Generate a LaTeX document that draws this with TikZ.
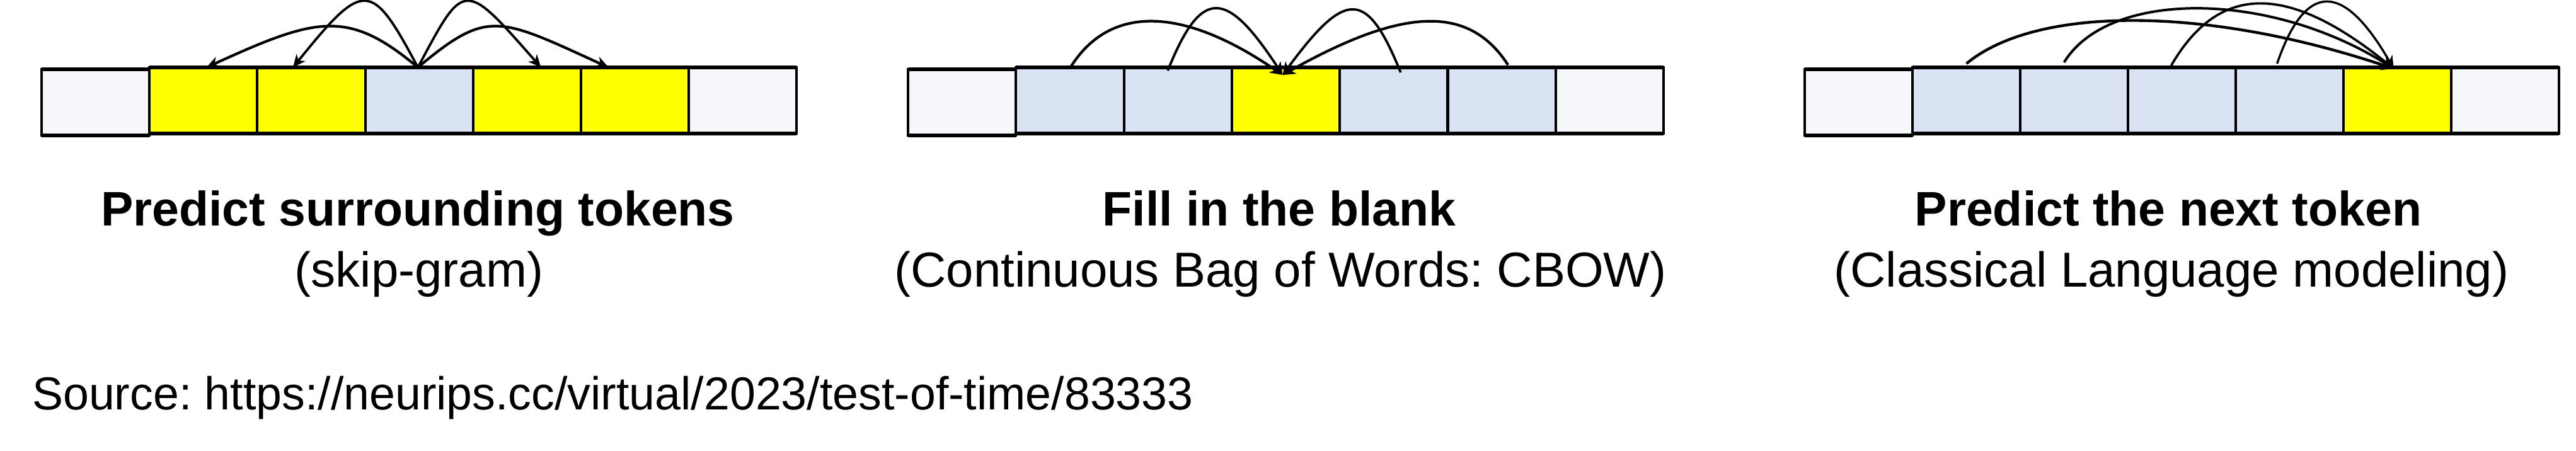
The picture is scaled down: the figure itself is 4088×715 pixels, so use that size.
\documentclass[tikz,border=0pt]{standalone}
\usepackage{fontspec}
\setmainfont{Liberation Sans}
\usetikzlibrary{arrows.meta}
\definecolor{endc}{HTML}{F5F7FB}
\definecolor{blu}{HTML}{DAE3F3}
\definecolor{yel}{HTML}{FFFF00}
\frenchspacing
\begin{document}
\begin{tikzpicture}[x=1pt,y=-1pt,
  cell/.style={draw=black, line width=4pt, minimum width=171.2pt, minimum height=105pt, anchor=north west, inner sep=0pt, outer sep=0pt},
  edge/.style={line width=5.5pt, draw=black},
  conn/.style={line width=#1, draw=black, -{Stealth[length=20pt,width=18pt,inset=6pt]}},
  ttl/.style={font=\fontsize{77}{90}\selectfont\bfseries, anchor=base, inner sep=0pt},
  sub/.style={font=\fontsize{78}{90}\selectfont, anchor=base, inner sep=0pt},
  srcstyle/.style={font=\fontsize{73.5}{88}\selectfont, anchor=base west, inner sep=0pt}]
\useasboundingbox (0,0) rectangle (4088,715);
\fill[white] (0,0) rectangle (4088,715);
% strips
\foreach \c [count=\i from 0] in {endc,yel,yel,blu,yel,yel,endc}
  \node[cell, fill=\c] (d1c\i) at ({66+171.2*\i}, {ifthenelse(\i==0,110,107)}) {};
\foreach \c [count=\i from 0] in {endc,blu,blu,yel,blu,blu,endc}
  \node[cell, fill=\c] (d2c\i) at ({1441+171.3*\i}, {ifthenelse(\i==0,110,107)}) {};
\foreach \c [count=\i from 0] in {endc,blu,blu,blu,blu,yel,endc}
  \node[cell, fill=\c] (d3c\i) at ({2864+171*\i}, {ifthenelse(\i==0,110,107)}) {};
\foreach \d in {1,2,3} {
  \draw[edge] (d\d c0.north west) -- (d\d c0.north east);
  \draw[edge] (d\d c0.south west) -- (d\d c0.south east);
  \draw[edge] (d\d c1.north west) -- (d\d c6.north east);
  \draw[edge] (d\d c1.south west) -- (d\d c6.south east);
}
% diagram 1: skip-gram
\coordinate (d1s) at ([xshift=-2pt]d1c3.north);
\draw[conn=3.8pt] (d1s) .. controls +(-74,-139) and +(113,-140) .. ([xshift=-29pt]d1c2.north);
\draw[conn=3.8pt] (d1s) .. controls +(74,-139) and +(-123,-140) .. ([xshift=22pt]d1c4.north);
\draw[conn=4.2pt] (d1s) .. controls +(-111,-93) and +(175,-80) .. ([xshift=5pt]d1c1.north);
\draw[conn=4.2pt] (d1s) .. controls +(111,-93) and +(-175,-80) .. ([xshift=-42pt]d1c5.north);
% diagram 2: CBOW
\coordinate (d2t) at ([xshift=-5pt,yshift=-12pt]d2c3.north);
\draw[conn=4.2pt] ([xshift=1.4pt,yshift=1pt]d2c1.north) .. controls +(62,-98) and +(-160,-110) .. (d2t);
\draw[conn=3.8pt] ([xshift=-16pt,yshift=-5pt]d2c2.north) .. controls +(53,-132) and +(-90,-138) .. (d2t);
\draw[conn=3.8pt] ([xshift=11pt,yshift=-8pt]d2c4.north) .. controls +(-54,-133) and +(100,-136) .. (d2t);
\draw[conn=4.2pt] ([xshift=10pt,yshift=4pt]d2c5.north) .. controls +(-61,-94) and +(195,-110) .. (d2t);
% diagram 3: language modeling
\coordinate (d3t) at ([xshift=-6pt,yshift=-2pt]d3c5.north);
\draw[conn=4.4pt] ([yshift=6pt]d3c1.north) .. controls +(111,-92) and +(-298,-100) .. (d3t);
\draw[conn=4pt] ([xshift=-16pt,yshift=8pt]d3c2.north) .. controls +(70,-115) and +(-198,-125) .. (d3t);
\draw[conn=3.7pt] ([xshift=-17pt,yshift=3pt]d3c3.north) .. controls +(76,-131) and +(-168,-136) .. (d3t);
\draw[conn=3.4pt] ([xshift=-20pt,yshift=6pt]d3c4.north) .. controls +(45,-131) and +(-80,-139) .. (d3t);
% labels
\node[ttl] (t1) at (663,358) {Predict surrounding tokens};
\node[sub] (s1) at (665,455) {(skip-gram)};
\node[ttl] (t2) at (2030,358) {Fill in the blank};
\node[sub] (s2) at (2032,455) {(Continuous Bag of Words: CBOW)};
\node[ttl] (t3) at (3441,358) {Predict the next token};
\node[sub] (s3) at (3446,455) {(Classical Language modeling)};
\node[srcstyle] (src) at (51,650) {Source: https://neurips.cc/virtual/2023/test-of-time/83333};
\end{tikzpicture}
\end{document}
